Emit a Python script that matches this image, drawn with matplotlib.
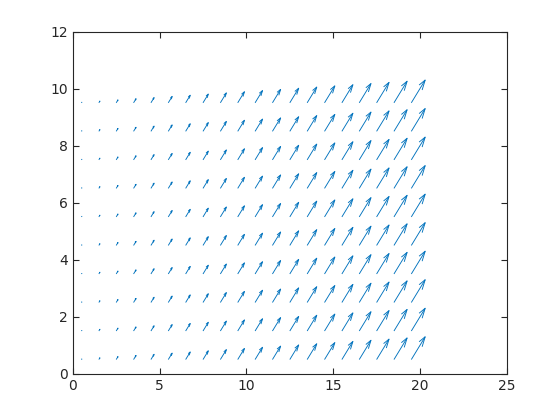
import numpy as np
from matplotlib import pyplot as plt
from matplotlib.collections import LineCollection

# grid of arrow origins
x_pos = [0.5, 1.5, 2.5, 3.5, 4.5, 5.5, 6.5, 7.5, 8.5, 9.5,
         10.5, 11.5, 12.5, 13.5, 14.5, 15.5, 16.5, 17.5, 18.5, 19.5]
y_pos = [0.5, 1.5, 2.5, 3.5, 4.5, 5.5, 6.5, 7.5, 8.5, 9.5]

# vector components per column (same for every row)
u_col = [0.5, 1.5, 2.5, 3.5, 4.5, 5.5, 6.5, 7.5, 8.5, 9.5,
         10.5, 11.5, 12.5, 13.5, 14.5, 15.5, 16.5, 17.5, 18.5, 19.5]
v_col = [0.5, 1.5, 2.5, 3.5, 4.5, 5.5, 6.5, 7.5, 8.5, 9.5,
         10.5, 11.5, 12.5, 13.5, 14.5, 15.5, 16.5, 17.5, 18.5, 19.5]

X, Y = np.meshgrid(x_pos, y_pos)
U = np.tile(u_col, (len(y_pos), 1))
V = np.tile(v_col, (len(y_pos), 1))

# autoscale like matlab quiver
scale = 0.041
u = (U * scale).ravel()
v = (V * scale).ravel()
x = X.ravel()
y = Y.ravel()

# matlab style line arrows: shaft + two head strokes
alpha, beta = 0.33, 0.33
tx, ty = x + u, y + v
segs = []
for i in range(len(x)):
    segs.append([(x[i], y[i]), (tx[i], ty[i])])
    h1 = (tx[i] - alpha * (u[i] + beta * v[i]), ty[i] - alpha * (v[i] - beta * u[i]))
    h2 = (tx[i] - alpha * (u[i] - beta * v[i]), ty[i] - alpha * (v[i] + beta * u[i]))
    segs.append([h1, (tx[i], ty[i]), h2])

fig = plt.figure(figsize=(5.6, 4.2), dpi=100)
ax = fig.add_axes([0.13, 0.11, 0.775, 0.815])

ax.add_collection(LineCollection(segs, colors='#0072BD', linewidths=0.65))

ax.set_xlim(0, 25)
ax.set_ylim(0, 12)
ax.set_xticks([0, 5, 10, 15, 20, 25])
ax.set_yticks([0, 2, 4, 6, 8, 10, 12])
ax.tick_params(direction='in', length=4, width=0.8, colors='#262626',
               labelsize=10, top=True, right=True)
for s in ax.spines.values():
    s.set_color('#262626')
    s.set_linewidth(0.8)

fig.savefig('out.png')
